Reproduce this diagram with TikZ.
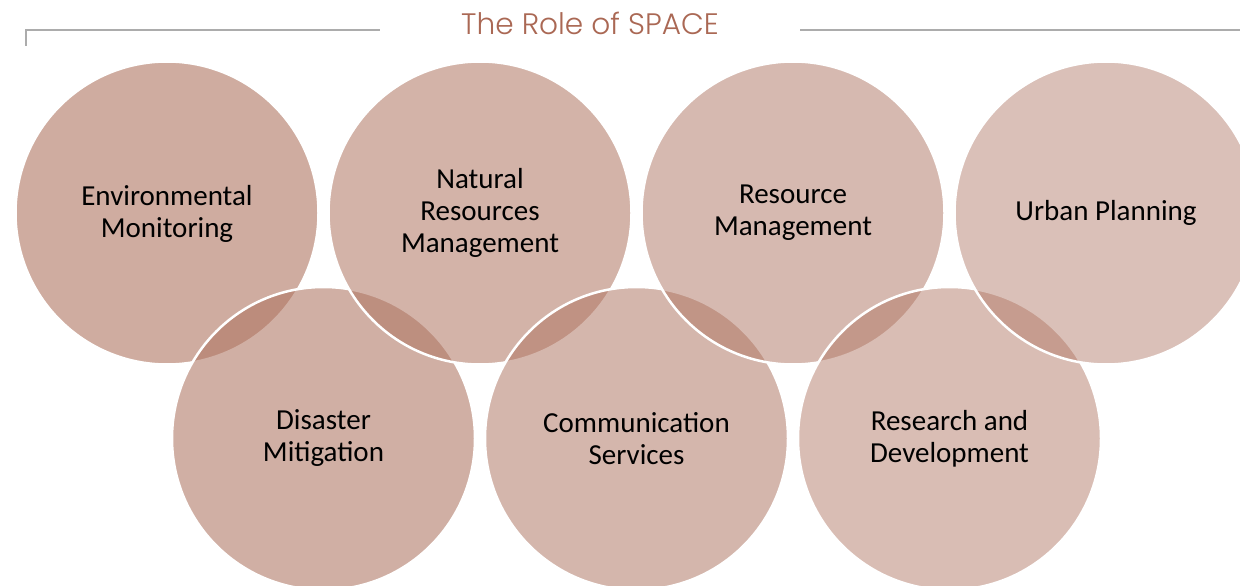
\documentclass[tikz,border=0pt]{standalone}
\usepackage{fontspec}
\setmainfont{Carlito}
\newfontfamily\titlefont{Poppins Light}
\definecolor{accent}{RGB}{175,117,98}
\definecolor{titlecol}{RGB}{170,104,84}
\definecolor{rulecol}{RGB}{172,172,172}
\tikzset{
  circ/.style={circle, minimum size=303pt, inner sep=0pt, fill=accent,
    draw=white, line width=2.5pt, draw opacity=1, text opacity=1,
    align=center, font=\fontsize{29}{32}\selectfont, text=black},
  rulel/.style={draw=rulecol, line width=1.5pt}
}
\begin{document}
\begin{tikzpicture}[x=1pt,y=-1pt]
\clip (0,0) rectangle (1240,586);
\fill[white] (0,0) rectangle (1240,586);
\coordinate (l1) at (26,46);
\coordinate (l2) at (26,30);
\coordinate (l3) at (380,30);
\coordinate (r1) at (800,30);
\coordinate (r2) at (1240,30);
\draw[rulel] (l1) -- (l2) -- (l3);
\draw[rulel] (r1) -- (r2);
\node[font=\titlefont\fontsize{29.6}{31}\selectfont, text=titlecol, inner sep=0pt] (title) at (590,23) {The Role of SPACE};
\node[circ, fill opacity=0.60] (c1) at (167,213) {\strut Environmental\\Monitoring};
\node[circ, fill opacity=0.575] (c2) at (323.5,438.5) {Disaster\\Mitigation};
\node[circ, fill opacity=0.55] (c3) at (480,213) {Natural\\Resources\\Management};
\node[circ, fill opacity=0.525] (c4) at (636.5,438.5) {Communication\\Services};
\node[circ, fill opacity=0.50] (c5) at (793,213) {Resource\\Management};
\node[circ, fill opacity=0.475] (c6) at (949.5,438.5) {Research and\\Development};
\node[circ, fill opacity=0.45] (c7) at (1106,213) {Urban Planning};
\end{tikzpicture}
\end{document}
